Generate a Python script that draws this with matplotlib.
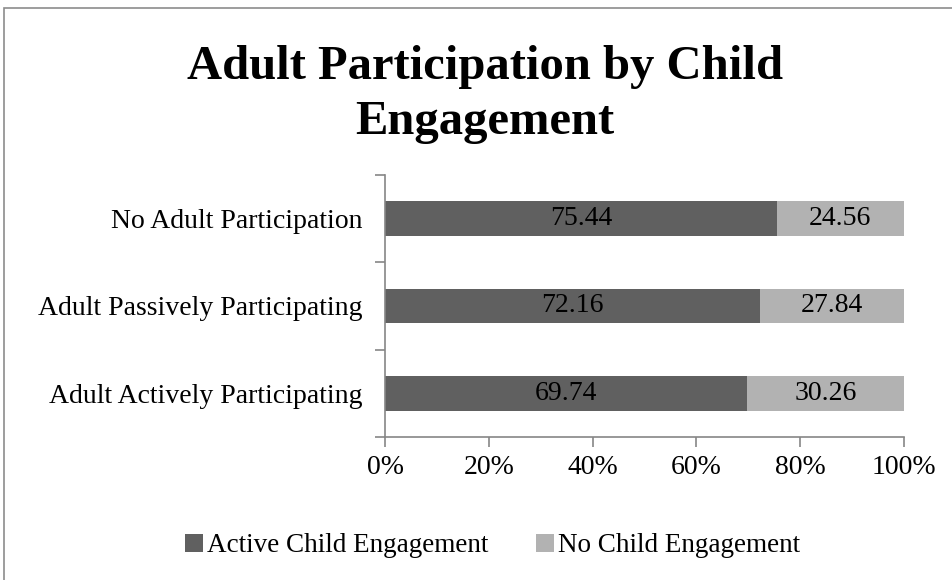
import matplotlib.pyplot as plt
from matplotlib.patches import Rectangle
from matplotlib.ticker import PercentFormatter

plt.rcParams['font.family'] = ['Liberation Serif', 'DejaVu Serif']

categories = ['Adult Actively Participating', 'Adult Passively Participating', 'No Adult Participation']
active = [69.74, 72.16, 75.44]
none_ = [30.26, 27.84, 24.56]
series_names = ['Active Child Engagement', 'No Child Engagement']
colors = ['#606060', '#b2b2b2']
axis_gray = '#868686'

fig = plt.figure(figsize=(9.53, 5.8), dpi=100)
ax = fig.add_axes([0.404, 0.2466, 0.5446, 0.4517])

# outer chart frame (only left and top edges fall inside the image)
fig.patches.append(Rectangle((4 / 953, -0.1), 1.2, 1 - 8 / 580 + 0.1,
                             transform=fig.transFigure, fill=False,
                             edgecolor='#8c8c8c', linewidth=1.2))

ypos = list(range(len(categories)))
b1 = ax.barh(ypos, active, height=0.4, color=colors[0], label=series_names[0])
b2 = ax.barh(ypos, none_, height=0.4, left=active, color=colors[1], label=series_names[1])
for bars, vals in ((b1, active), (b2, none_)):
    ax.bar_label(bars, labels=[f'{v:.2f}' for v in vals], label_type='center',
                 fontsize=20, color='black')

ax.set_xlim(0, 100)
ax.set_ylim(-0.5, 2.5)
ax.xaxis.set_major_formatter(PercentFormatter(decimals=0))
ax.set_xticks([0, 20, 40, 60, 80, 100])
ax.set_yticks([-0.5, 0.5, 1.5, 2.5], minor=False)
ax.set_yticklabels([])
ax.set_yticks(ypos, minor=True)
ax.set_yticklabels(categories, minor=True)
ax.tick_params(axis='y', which='minor', length=0, pad=16, labelsize=20)
ax.tick_params(axis='y', which='major', length=7, color=axis_gray, width=1.2)
ax.tick_params(axis='x', length=7, color=axis_gray, width=1.2, labelsize=20, pad=6)
for s in ('top', 'right'):
    ax.spines[s].set_visible(False)
for s in ('left', 'bottom'):
    ax.spines[s].set_color(axis_gray)
    ax.spines[s].set_linewidth(1.2)

fig.text(0.509, 1 - 134 / 580, 'Adult Participation by Child\nEngagement',
         ha='center', va='baseline', multialignment='center',
         fontsize=35, fontweight='bold', linespacing=1.32)

fig.legend(handles=[b1, b2], loc='center', bbox_to_anchor=(0.517, 0.059), ncol=2,
           frameon=False, fontsize=19.5, handlelength=0.66, handleheight=0.66,
           handletextpad=0.15, columnspacing=1.75)

plt.savefig('out.png')
